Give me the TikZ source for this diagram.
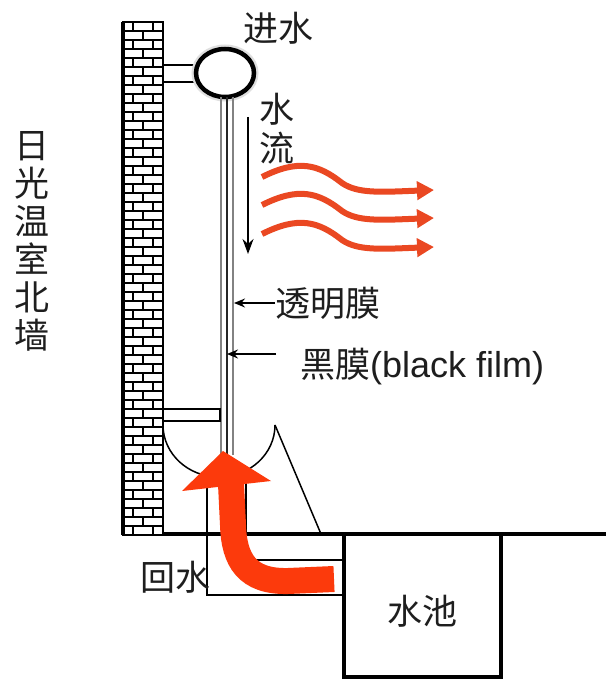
\documentclass[tikz,border=0pt]{standalone}
\usepackage{fontspec}
\setmainfont{Liberation Sans}
\newfontfamily\cjk{Noto Sans CJK SC}
\usetikzlibrary{arrows.meta}

\definecolor{waveRed}{RGB}{234,72,34}
\definecolor{flowRed}{RGB}{252,58,12}
\definecolor{filmGray}{RGB}{130,130,130}
\definecolor{inkText}{RGB}{30,30,30}

\tikzset{
  thinline/.style={line width=1.5pt, black},
  brick/.style={line width=1.6pt, black},
  cjklabel/.style={font=\cjk\fontsize{35}{38}\selectfont, inner sep=0pt, text=inkText},
  heatwave/.style={draw=waveRed, line width=6pt, -{Triangle[length=17pt,width=18pt]}},
  pointer/.style={line width=1.5pt, -{Stealth[length=11pt,width=9pt]}},
  flowarrow/.style={line width=1.5pt, -{Stealth[length=15pt,width=11pt]}},
}

\begin{document}
\begin{tikzpicture}[x=1pt, y=-1pt]
\useasboundingbox (0,0) rectangle (606,679);
\fill[white] (0,0) rectangle (606,679);

% brick wall of the greenhouse
\fill[white] (123,22) rectangle (163,535);
\foreach \i [evaluate=\i as \ya using 22+9*\i] in {1,...,56}
  \draw[brick] (123,\ya) -- (163,\ya);
\foreach \i [evaluate=\i as \ya using 22+9*\i, evaluate=\i as \yb using 31+9*\i] in {0,2,...,56}
  \draw[brick] (133,\ya) -- (133,\yb) (153,\ya) -- (153,\yb);
\foreach \i [evaluate=\i as \ya using 22+9*\i, evaluate=\i as \yb using 31+9*\i] in {1,3,...,55}
  \draw[brick] (143,\ya) -- (143,\yb);
\draw[brick] (123,22) rectangle (163,535);
\draw[line width=3.5pt] (123,22) -- (123,535);

% inlet bracket and supply pipe
\draw[thinline, fill=white] (163,65) rectangle (197,82);
\draw[gray!25, line width=9pt] (225,73) ellipse [x radius=29, y radius=24];
\draw[line width=4.5pt, fill=white] (225,73) ellipse [x radius=29, y radius=24];

% transparent film (outer) and black film (inner)
\draw[filmGray, line width=1.6pt] (221,97) -- (221,455);
\draw[filmGray, line width=1.6pt] (233,97) -- (233,455);
\draw[black!85, line width=1.8pt] (227,97) -- (227,455);

% gutter at the bottom of the film
\draw[thinline, fill=white] (163,409) rectangle (220,421);
\draw[thinline] (163,425) arc[start angle=180, end angle=0, x radius=56, y radius=52];
\draw[thinline] (275,425) -- (321,534);

% return pipe to the pool
\draw[thinline] (207,476) -- (207,595) -- (344,595);
\draw[thinline] (246,470) -- (246,560) -- (344,560);

% ground line and water pool
\draw[line width=4pt] (163,534) -- (606,534);
\draw[line width=3.5pt] (344,534) -- (344,677) -- (501,677) -- (501,534);

% heat released to the greenhouse
\foreach \y [count=\k] in {177,205,234} {
  \coordinate (ws\k) at (262,\y);
  \coordinate (we\k) at (434,\y+13);
  \draw[heatwave] (ws\k) .. controls (298,\y-18) and (318,\y-13) .. (342,\y+6)
     .. controls (358,\y+17) and (382,\y+15) .. (we\k);
}

% returning water flow
\fill[flowRed] (182,491) -- (223,451) -- (271,481) -- cycle;
\draw[flowRed, line width=26pt] (334,579) -- (288,581)
   .. controls (247,582) and (234,560) .. (233,525) -- (231,484);

% labels
\node[cjklabel] (inlet) at (278,28) {进水};
\node[cjklabel, align=center] (wall) at (32,241) {日\\光\\温\\室\\北\\墙};
\node[cjklabel, align=center, font=\cjk\fontsize{35}{39}\selectfont] (flow) at (277,129) {水\\流};
\node[cjklabel, anchor=west] (tfilm) at (275,303) {透明膜};
\node[cjklabel, anchor=west] (bfilm) at (300,367) {黑膜{\rmfamily\fontsize{36}{40}\selectfont(black film)}};
\node[cjklabel, anchor=west] (back) at (140,577) {回水};
\node[cjklabel] (pool) at (422,611) {水池};

% flow direction and film pointers
\coordinate (fa) at (248,117);
\coordinate (fb) at (248,254);
\draw[flowarrow] (fa) -- (fb);
\coordinate (ttip) at (234,303);
\draw[pointer] (tfilm.west) -- (ttip);
\coordinate (btail) at (276,354);
\coordinate (btip) at (227,354);
\draw[pointer] (btail) -- (btip);
\end{tikzpicture}
\end{document}
